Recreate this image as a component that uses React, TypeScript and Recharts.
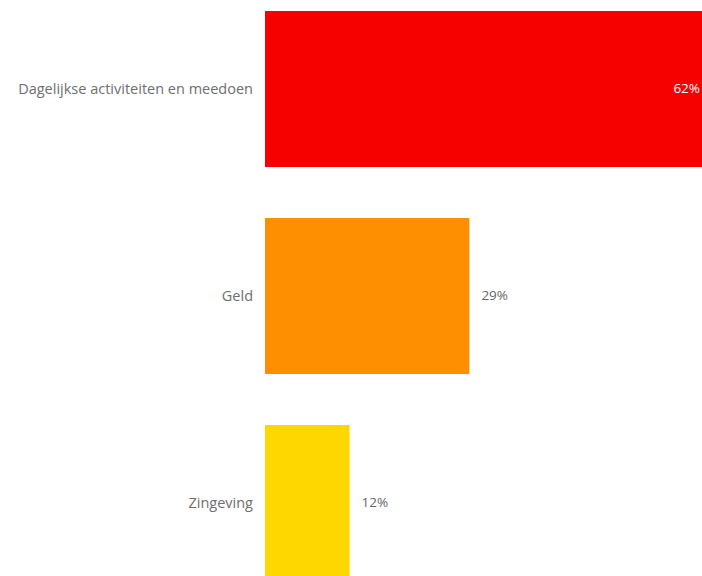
import React from "react";
import { BarChart, Bar, XAxis, YAxis, Cell, LabelList } from "recharts";

const categories = ["Dagelijkse activiteiten en meedoen", "Geld", "Zingeving"];
const values = [62, 29, 12];
const colors = ["#F60000", "#FE8F00", "#FFD700"];

const data = categories.map((name, i) => ({ name, value: values[i] }));

const FONT = "'Open Sans', 'Noto Sans', sans-serif";

const renderLabel = (props: any) => {
  const { x, y, width, height, value, index } = props;
  const inside = index === 0;
  const tx = inside ? x + width - 2 : x + width + 12;
  return (
    <text
      x={tx}
      y={y + height / 2}
      dy={4}
      textAnchor={inside ? "end" : "start"}
      fill={inside ? "#FFFFFF" : "#666666"}
      fontSize={13.5}
      fontFamily={FONT}
    >
      {value}%
    </text>
  );
};

export default function App() {
  return (
    <div
      style={{
        position: "absolute",
        left: 0,
        top: 0,
        width: 702,
        height: 576,
        overflow: "hidden",
        background: "#fff",
      }}
    >
      <div style={{ position: "absolute", left: 0, top: -15 }}>
        <BarChart
          width={702}
          height={621}
          data={data}
          layout="vertical"
          margin={{ top: 0, right: 0, bottom: 0, left: 0 }}
        >
          <XAxis type="number" domain={[0, 62]} hide />
          <YAxis
            type="category"
            dataKey="name"
            width={265}
            axisLine={false}
            tickLine={false}
            tickSize={0}
            tickMargin={12}
            tick={{ fill: "#6e6e6e", fontSize: 14.5, fontFamily: FONT }}
          />
          <Bar dataKey="value" barSize={156} isAnimationActive={false}>
            {data.map((d, i) => (
              <Cell key={d.name} fill={colors[i]} />
            ))}
            <LabelList dataKey="value" content={renderLabel} />
          </Bar>
        </BarChart>
      </div>
    </div>
  );
}
